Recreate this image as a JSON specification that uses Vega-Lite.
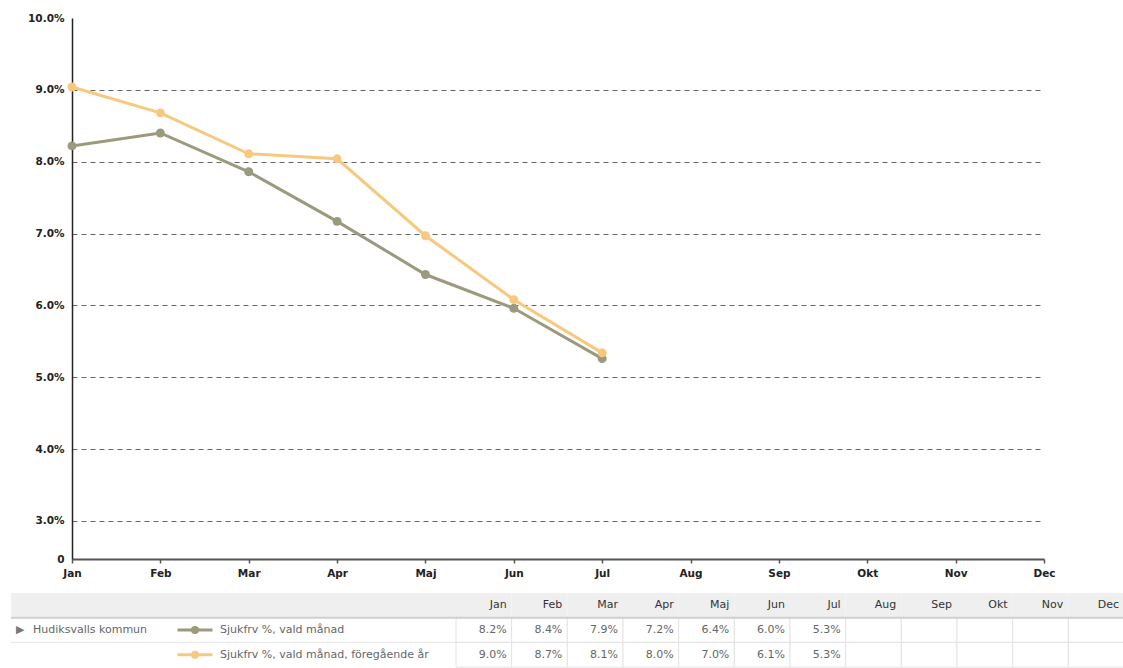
{
  "$schema": "https://vega.github.io/schema/vega-lite/v6.json",
  "background": "white",
  "padding": {"left": 10, "right": 0, "top": 13, "bottom": 0},
  "spacing": 0,
  "config": {"view": {"stroke": null}, "font": "DejaVu Sans"},
  "datasets": {
    "d": [
      {"kommun": "Hudiksvalls kommun", "serie": "Sjukfrv %, vald månad", "month": "Jan", "value": 0.0822},
      {"kommun": "Hudiksvalls kommun", "serie": "Sjukfrv %, vald månad", "month": "Feb", "value": 0.0840},
      {"kommun": "Hudiksvalls kommun", "serie": "Sjukfrv %, vald månad", "month": "Mar", "value": 0.0786},
      {"kommun": "Hudiksvalls kommun", "serie": "Sjukfrv %, vald månad", "month": "Apr", "value": 0.0717},
      {"kommun": "Hudiksvalls kommun", "serie": "Sjukfrv %, vald månad", "month": "Maj", "value": 0.0643},
      {"kommun": "Hudiksvalls kommun", "serie": "Sjukfrv %, vald månad", "month": "Jun", "value": 0.0596},
      {"kommun": "Hudiksvalls kommun", "serie": "Sjukfrv %, vald månad", "month": "Jul", "value": 0.0526},
      {"kommun": "Hudiksvalls kommun", "serie": "Sjukfrv %, vald månad", "month": "Aug", "value": null},
      {"kommun": "Hudiksvalls kommun", "serie": "Sjukfrv %, vald månad", "month": "Sep", "value": null},
      {"kommun": "Hudiksvalls kommun", "serie": "Sjukfrv %, vald månad", "month": "Okt", "value": null},
      {"kommun": "Hudiksvalls kommun", "serie": "Sjukfrv %, vald månad", "month": "Nov", "value": null},
      {"kommun": "Hudiksvalls kommun", "serie": "Sjukfrv %, vald månad", "month": "Dec", "value": null},
      {"kommun": "Hudiksvalls kommun", "serie": "Sjukfrv %, vald månad, föregående år", "month": "Jan", "value": 0.0904},
      {"kommun": "Hudiksvalls kommun", "serie": "Sjukfrv %, vald månad, föregående år", "month": "Feb", "value": 0.0868},
      {"kommun": "Hudiksvalls kommun", "serie": "Sjukfrv %, vald månad, föregående år", "month": "Mar", "value": 0.0811},
      {"kommun": "Hudiksvalls kommun", "serie": "Sjukfrv %, vald månad, föregående år", "month": "Apr", "value": 0.0804},
      {"kommun": "Hudiksvalls kommun", "serie": "Sjukfrv %, vald månad, föregående år", "month": "Maj", "value": 0.0697},
      {"kommun": "Hudiksvalls kommun", "serie": "Sjukfrv %, vald månad, föregående år", "month": "Jun", "value": 0.0608},
      {"kommun": "Hudiksvalls kommun", "serie": "Sjukfrv %, vald månad, föregående år", "month": "Jul", "value": 0.0534},
      {"kommun": "Hudiksvalls kommun", "serie": "Sjukfrv %, vald månad, föregående år", "month": "Aug", "value": null},
      {"kommun": "Hudiksvalls kommun", "serie": "Sjukfrv %, vald månad, föregående år", "month": "Sep", "value": null},
      {"kommun": "Hudiksvalls kommun", "serie": "Sjukfrv %, vald månad, föregående år", "month": "Okt", "value": null},
      {"kommun": "Hudiksvalls kommun", "serie": "Sjukfrv %, vald månad, föregående år", "month": "Nov", "value": null},
      {"kommun": "Hudiksvalls kommun", "serie": "Sjukfrv %, vald månad, föregående år", "month": "Dec", "value": null}
    ],
    "rader": [
      {"rad": "Rubrik"},
      {"rad": "Sjukfrv %, vald månad"},
      {"rad": "Sjukfrv %, vald månad, föregående år"}
    ],
    "man": [
      {"month": "Jan"}, {"month": "Feb"}, {"month": "Mar"}, {"month": "Apr"},
      {"month": "Maj"}, {"month": "Jun"}, {"month": "Jul"}, {"month": "Aug"},
      {"month": "Sep"}, {"month": "Okt"}, {"month": "Nov"}, {"month": "Dec"}
    ]
  },
  "vconcat": [
    {
      "spacing": 0,
      "hconcat": [
        {
          "width": 1,
          "height": 10,
          "data": {"values": [{}]},
          "mark": {"type": "point", "opacity": 0, "size": 0}
        },
        {
          "width": 972,
          "height": 541,
          "data": {"name": "d"},
          "transform": [{"filter": "datum.value != null"}],
          "encoding": {
            "x": {
              "field": "month", "type": "ordinal",
              "scale": {"type": "point", "padding": 0, "domain": ["Jan","Feb","Mar","Apr","Maj","Jun","Jul","Aug","Sep","Okt","Nov","Dec"]},
              "axis": {
                "title": null, "labelAngle": 0, "labelFontWeight": "bold", "labelFontSize": 10.5,
                "labelColor": "#222", "domainColor": "#555", "domainWidth": 2, "tickColor": "#555",
                "tickSize": 4, "tickWidth": 1.5, "labelPadding": 5, "minExtent": 34, "maxExtent": 34, "grid": false
              }
            },
            "y": {
              "field": "value", "type": "quantitative",
              "scale": {"domain": [0.02471, 0.10], "nice": false, "zero": false},
              "axis": {
                "title": null,
                "values": [0.02471, 0.03, 0.04, 0.05, 0.06, 0.07, 0.08, 0.09, 0.10],
                "labelExpr": "datum.value < 0.029 ? '0' : format(datum.value, '.1%')",
                "labelFontWeight": "bold", "labelFontSize": 10.5, "labelColor": "#222",
                "labelPadding": 8, "ticks": false, "domainColor": "#222", "domainWidth": 1.5,
                "minExtent": 60, "maxExtent": 60,
                "grid": true, "gridDash": [5, 4], "gridColor": "#666", "gridWidth": 1,
                "gridOpacity": {"condition": {"test": "datum.value < 0.029 || datum.value > 0.099", "value": 0}, "value": 1}
              }
            },
            "color": {
              "field": "serie", "type": "nominal",
              "scale": {"domain": ["Sjukfrv %, vald månad", "Sjukfrv %, vald månad, föregående år"], "range": ["#9c9a7c", "#f7c980"]},
              "legend": null
            }
          },
          "layer": [
            {"mark": {"type": "line", "strokeWidth": 3}},
            {"mark": {"type": "point", "filled": true, "size": 80, "opacity": 1}}
          ]
        }
      ]
    },
    {
      "spacing": 0,
      "bounds": "flush",
      "hconcat": [
        {
          "width": 160,
          "height": 74,
          "layer": [
            {
              "data": {"name": "rader"},
              "transform": [{"filter": "datum.rad == 'Rubrik'"}],
              "mark": {"type": "rect", "color": "#efefef"},
              "encoding": {"y": {"field": "rad", "type": "nominal", "scale": {"domain": ["Rubrik", "Sjukfrv %, vald månad", "Sjukfrv %, vald månad, föregående år"], "paddingInner": 0, "paddingOuter": 0}, "axis": null}}
            },
            {
              "data": {"name": "rader"},
              "transform": [{"filter": "datum.rad != 'Sjukfrv %, vald månad, föregående år'"}],
              "mark": {"type": "rule"},
              "encoding": {
                "y": {"field": "rad", "type": "nominal", "bandPosition": 1},
                "color": {"condition": {"test": "datum.rad == 'Rubrik'", "value": "#cfcfcf"}, "value": "#e6e6e6"},
                "strokeWidth": {"condition": {"test": "datum.rad == 'Rubrik'", "value": 2}, "value": 1}
              }
            },
            {
              "data": {"name": "d"},
              "transform": [{"filter": "datum.month == 'Jan' && datum.serie == 'Sjukfrv %, vald månad'"}],
              "mark": {"type": "text", "text": "▶", "align": "left", "dx": 5, "fontSize": 11, "color": "#777"},
              "encoding": {
                "x": {"datum": 0, "type": "quantitative", "scale": {"domain": [0, 1]}, "axis": null},
                "y": {"field": "serie", "type": "nominal", "bandPosition": 0.5}
              }
            },
            {
              "data": {"name": "d"},
              "transform": [{"filter": "datum.month == 'Jan' && datum.serie == 'Sjukfrv %, vald månad'"}],
              "mark": {"type": "text", "align": "left", "dx": 22, "fontSize": 11, "color": "#666"},
              "encoding": {
                "x": {"datum": 0, "type": "quantitative"},
                "y": {"field": "serie", "type": "nominal", "bandPosition": 0.5},
                "text": {"field": "kommun"}
              }
            }
          ]
        },
        {
          "width": 48,
          "height": 74,
          "layer": [
            {
              "data": {"name": "rader"},
              "transform": [{"filter": "datum.rad == 'Rubrik'"}],
              "mark": {"type": "rect", "color": "#efefef"},
              "encoding": {"y": {"field": "rad", "type": "nominal", "scale": {"domain": ["Rubrik", "Sjukfrv %, vald månad", "Sjukfrv %, vald månad, föregående år"], "paddingInner": 0, "paddingOuter": 0}, "axis": null}}
            },
            {
              "data": {"name": "rader"},
              "transform": [{"filter": "datum.rad != 'Sjukfrv %, vald månad, föregående år'"}],
              "mark": {"type": "rule"},
              "encoding": {
                "y": {"field": "rad", "type": "nominal", "bandPosition": 1},
                "color": {"condition": {"test": "datum.rad == 'Rubrik'", "value": "#cfcfcf"}, "value": "#e6e6e6"},
                "strokeWidth": {"condition": {"test": "datum.rad == 'Rubrik'", "value": 2}, "value": 1}
              }
            },
            {
              "data": {"name": "d"},
              "transform": [{"filter": "datum.month == 'Jan'"}],
              "mark": {"type": "point", "shape": "stroke", "size": 1225, "strokeWidth": 3, "filled": false, "opacity": 1},
              "encoding": {
                "x": {"datum": 0.5, "type": "quantitative", "scale": {"domain": [0, 1]}, "axis": null},
                "y": {"field": "serie", "type": "nominal", "bandPosition": 0.5},
                "color": {"field": "serie", "type": "nominal", "scale": {"domain": ["Sjukfrv %, vald månad", "Sjukfrv %, vald månad, föregående år"], "range": ["#9c9a7c", "#f7c980"]}, "legend": null}
              }
            },
            {
              "data": {"name": "d"},
              "transform": [{"filter": "datum.month == 'Jan'"}],
              "mark": {"type": "point", "filled": true, "size": 64, "opacity": 1},
              "encoding": {
                "x": {"datum": 0.5, "type": "quantitative"},
                "y": {"field": "serie", "type": "nominal", "bandPosition": 0.5},
                "color": {"field": "serie", "type": "nominal", "legend": null}
              }
            }
          ]
        },
        {
          "width": 237,
          "height": 74,
          "layer": [
            {
              "data": {"name": "rader"},
              "transform": [{"filter": "datum.rad == 'Rubrik'"}],
              "mark": {"type": "rect", "color": "#efefef"},
              "encoding": {"y": {"field": "rad", "type": "nominal", "scale": {"domain": ["Rubrik", "Sjukfrv %, vald månad", "Sjukfrv %, vald månad, föregående år"], "paddingInner": 0, "paddingOuter": 0}, "axis": null}}
            },
            {
              "data": {"name": "rader"},
              "transform": [{"filter": "datum.rad != 'Sjukfrv %, vald månad, föregående år'"}],
              "mark": {"type": "rule"},
              "encoding": {
                "y": {"field": "rad", "type": "nominal", "bandPosition": 1},
                "color": {"condition": {"test": "datum.rad == 'Rubrik'", "value": "#cfcfcf"}, "value": "#e6e6e6"},
                "strokeWidth": {"condition": {"test": "datum.rad == 'Rubrik'", "value": 2}, "value": 1}
              }
            },
            {
              "data": {"name": "d"},
              "transform": [{"filter": "datum.month == 'Jan'"}],
              "mark": {"type": "text", "align": "left", "dx": 1, "fontSize": 11, "color": "#666"},
              "encoding": {
                "x": {"datum": 0, "type": "quantitative", "scale": {"domain": [0, 1]}, "axis": null},
                "y": {"field": "serie", "type": "nominal", "bandPosition": 0.5},
                "text": {"field": "serie"}
              }
            }
          ]
        },
        {
          "width": 668,
          "height": 74,
          "layer": [
            {
              "data": {"name": "man"},
              "mark": {"type": "rect", "color": "#efefef"},
              "encoding": {
                "x": {"field": "month", "type": "ordinal", "sort": null, "scale": {"domain": ["Jan","Feb","Mar","Apr","Maj","Jun","Jul","Aug","Sep","Okt","Nov","Dec"], "paddingInner": 0, "paddingOuter": 0}, "axis": null},
                "y": {"datum": "Rubrik", "type": "nominal", "scale": {"domain": ["Rubrik", "Sjukfrv %, vald månad", "Sjukfrv %, vald månad, föregående år"], "paddingInner": 0, "paddingOuter": 0}, "axis": null}
              }
            },
            {
              "data": {"name": "d"},
              "mark": {"type": "rect", "fill": "white", "stroke": "#e3e3e3", "strokeWidth": 1},
              "encoding": {
                "x": {"field": "month", "type": "ordinal"},
                "y": {"field": "serie", "type": "nominal"}
              }
            },
            {
              "data": {"name": "rader"},
              "transform": [{"filter": "datum.rad == 'Rubrik'"}],
              "mark": {"type": "rule", "color": "#cfcfcf", "strokeWidth": 2},
              "encoding": {"y": {"field": "rad", "type": "nominal", "bandPosition": 1}}
            },
            {
              "data": {"name": "man"},
              "mark": {"type": "text", "align": "right", "dx": -5, "fontSize": 11, "color": "#333"},
              "encoding": {
                "x": {"field": "month", "type": "ordinal", "bandPosition": 1},
                "y": {"datum": "Rubrik", "type": "nominal", "bandPosition": 0.5},
                "text": {"field": "month"}
              }
            },
            {
              "data": {"name": "d"},
              "transform": [{"filter": "datum.value != null"}],
              "mark": {"type": "text", "align": "right", "dx": -5, "fontSize": 11, "color": "#666"},
              "encoding": {
                "x": {"field": "month", "type": "ordinal", "bandPosition": 1},
                "y": {"field": "serie", "type": "nominal", "bandPosition": 0.5},
                "text": {"field": "value", "type": "quantitative", "format": ".1%"}
              }
            }
          ]
        }
      ]
    }
  ]
}
